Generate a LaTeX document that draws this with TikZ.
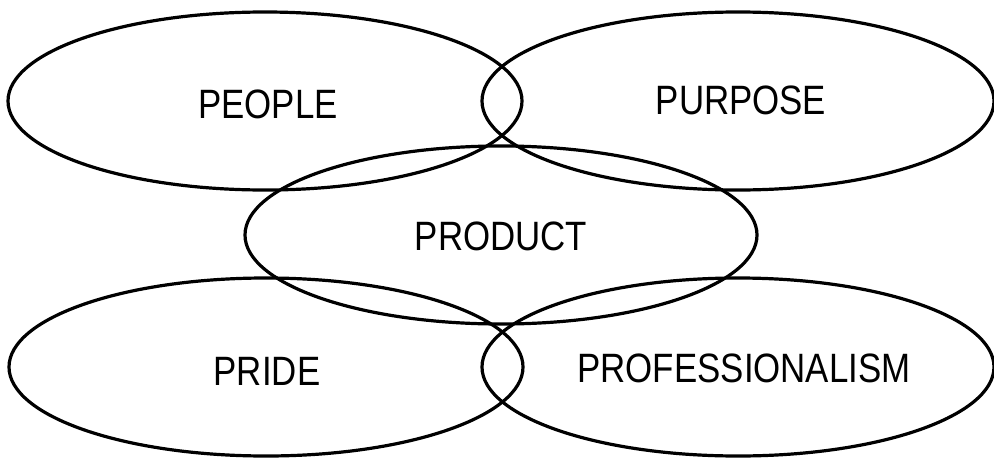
\documentclass[tikz,border=0pt]{standalone}
\usepackage{fontspec}
\newfontfamily\lab{Liberation Sans}[FakeStretch=0.85]
\usetikzlibrary{shapes.geometric}
\begin{document}
\begin{tikzpicture}[x=1pt,y=-1pt,
  oval/.style={ellipse,draw=black,line width=3.2pt,minimum width=#1,minimum height=178pt,inner sep=0pt},
  oval/.default=514pt,
  txt/.style={font=\lab\fontsize{41}{41}\selectfont,inner sep=0pt}]
\useasboundingbox (0,0) rectangle (994,458);
\node[oval] (people) at (265,101) {};
\node[oval=512pt] (purpose) at (738,101) {};
\node[oval=512pt] (product) at (501,235) {};
\node[oval] (pride) at (266,367) {};
\node[oval=512pt] (prof) at (738,367) {};
\node[txt] (tpeople) at (268,104) {PEOPLE};
\node[txt] (tpurpose) at (741,100) {PURPOSE};
\node[txt] (tproduct) at (501,236) {PRODUCT};
\node[txt] (tpride) at (267,371) {PRIDE};
\node[txt] (tprof) at (744,368) {PROFESSIONALISM};
\end{tikzpicture}
\end{document}
